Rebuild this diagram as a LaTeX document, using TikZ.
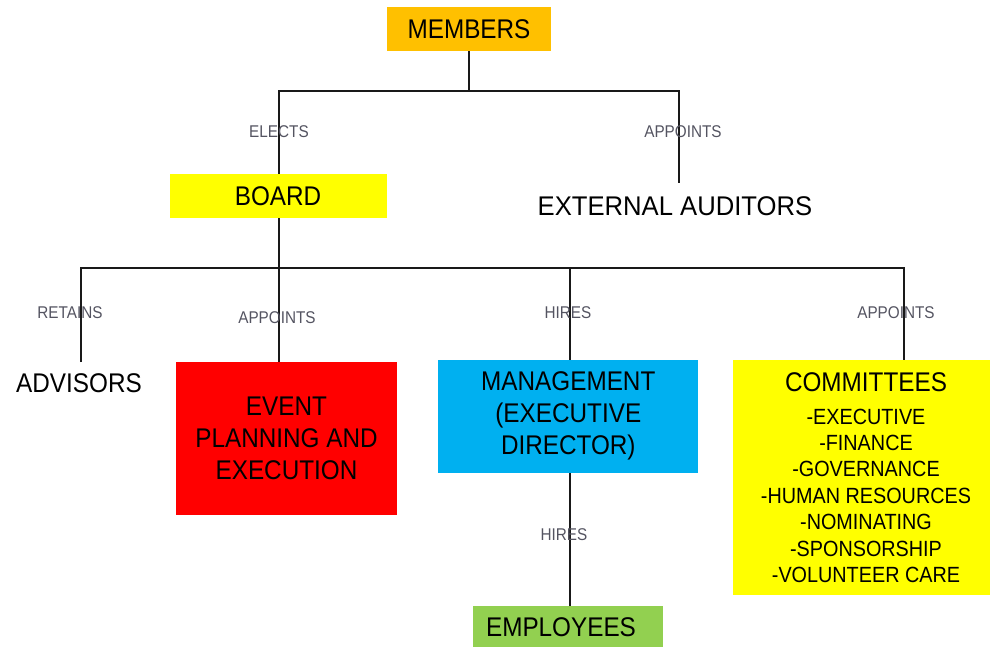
\documentclass[tikz,border=0pt]{standalone}
\usepackage{fontspec}
\setmainfont[FakeStretch=0.9]{Liberation Sans}
\newfontfamily\extfont[FakeStretch=0.95]{Liberation Sans}
\definecolor{memorange}{HTML}{FFC000}
\definecolor{boardyellow}{HTML}{FFFF00}
\definecolor{eventred}{HTML}{FF0000}
\definecolor{mgmtblue}{HTML}{00B0F0}
\definecolor{empgreen}{HTML}{92D050}
\definecolor{labelgray}{rgb}{0.33,0.33,0.38}
\definecolor{linecol}{rgb}{0.1,0.1,0.1}
\tikzset{
  box/.style={rectangle, inner sep=0pt, align=center, font=\fontsize{27}{32}\selectfont},
  plaintext/.style={inner sep=0pt, align=center, font=\fontsize{27}{32}\selectfont},
  itemtext/.style={inner sep=0pt, align=center, font=\fontsize{22}{26.4}\selectfont},
  rel/.style={inner sep=0pt, text=labelgray, font=\fontsize{17}{20}\selectfont},
  conn/.style={draw=linecol, line width=2pt}
}
\begin{document}
\begin{tikzpicture}[x=1pt,y=-1pt]
\useasboundingbox (0,0) rectangle (991,647);
\clip (0,0) rectangle (991,647);

% boxes
\node[box, fill=memorange, minimum width=164pt, minimum height=44pt] (mem) at (469,29) {MEMBERS};
\node[box, fill=boardyellow, minimum width=217pt, minimum height=44pt] (board) at (278,196) {BOARD};
\node[plaintext, font=\extfont\fontsize{27}{32}\selectfont] (ext) at (675,206) {EXTERNAL AUDITORS};
\node[plaintext] (adv) at (79,383) {ADVISORS};
\node[box, fill=eventred, minimum width=221.6pt, minimum height=153.3pt] (event) at (286.5,438.4) {EVENT\\PLANNING AND\\EXECUTION};
\node[box, fill=mgmtblue, minimum width=260pt, minimum height=112.7pt] (mgmt) at (568.3,416.3) {MANAGEMENT\\(EXECUTIVE\\DIRECTOR)};
\node[box, fill=boardyellow, minimum width=256.7pt, minimum height=235pt] (comm) at (861.7,477.5) {};
\node[plaintext] (commt) at (866,382) {COMMITTEES};
\node[itemtext] (commlist) at (866,495.8) {-EXECUTIVE\\-FINANCE\\-GOVERNANCE\\-HUMAN RESOURCES\\-NOMINATING\\-SPONSORSHIP\\-VOLUNTEER CARE};
\node[box, fill=empgreen, minimum width=190pt, minimum height=48pt] (emp) at (568.3,630) {};
\node[plaintext] (empt) at (561,627.3) {EMPLOYEES};

% junction levels and free ends
\coordinate (lvlA) at (0,91);
\coordinate (lvlB) at (0,268.3);
\coordinate (extend) at (679,183.3);
\coordinate (advend) at (81,362);
\coordinate (commend) at (904,360);
\coordinate (boardx) at (279.3,0);
\coordinate (mgmtx) at (569.5,0);

% connectors
\draw[conn] (mem.south) -- (mem.south |- lvlA);
\draw[conn] (boardx |- board.north) -- (boardx |- lvlA) -- (extend |- lvlA) -- (extend);
\draw[conn] (boardx |- board.south) -- (boardx |- event.north);
\draw[conn] (advend) -- (advend |- lvlB) -- (commend |- lvlB) -- (commend);
\draw[conn] (mgmtx |- mgmt.north) -- (mgmtx |- lvlB);
\draw[conn] (mgmtx |- mgmt.south) -- (mgmtx |- emp.north);

% relation labels
\node[rel] (lelects) at (279,131.7) {ELECTS};
\node[rel] (lappext) at (683,131.7) {APPOINTS};
\node[rel] (lretains) at (70,312.3) {RETAINS};
\node[rel] (lappevent) at (277,317.3) {APPOINTS};
\node[rel] (lhires) at (568,312.3) {HIRES};
\node[rel] (lappcomm) at (896,312.7) {APPOINTS};
\node[rel] (lhiresemp) at (564,535) {HIRES};
\end{tikzpicture}
\end{document}
